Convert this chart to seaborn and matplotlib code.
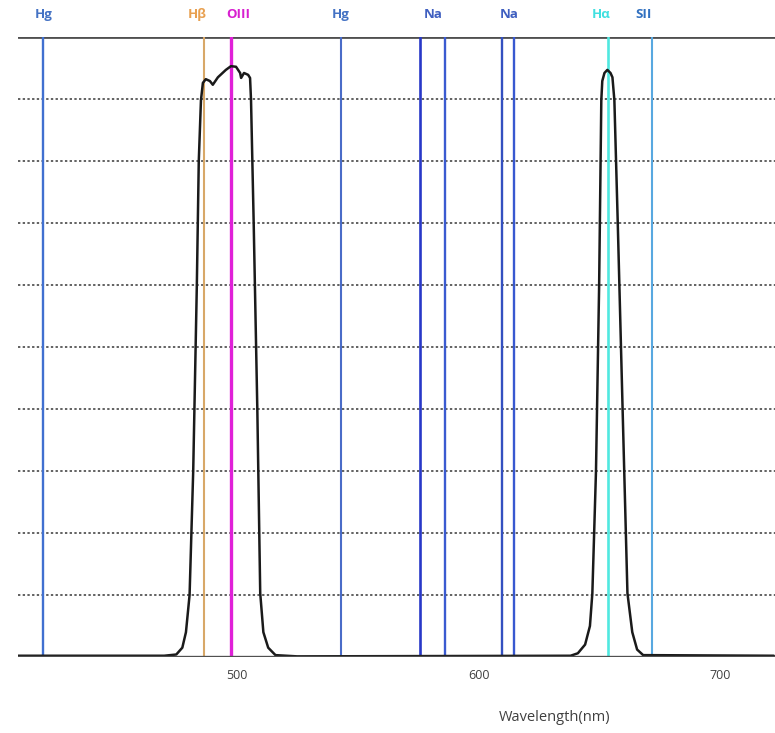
import matplotlib
matplotlib.use('Agg')
import matplotlib.pyplot as plt
import seaborn as sns
import pandas as pd

# filter transmission curve (wavelength nm, transmission %)
wavelength = [409, 470, 475, 477.5, 479, 480.5, 482, 483.5, 484.3, 485.2, 486,
              487.2, 488.9, 490.1, 492.2, 495.5, 497.6, 499.7, 501.4, 501.8,
              503, 504.7, 505.5, 505.9, 507, 508.5, 509.7, 511, 513, 516, 525,
              638, 641, 644, 646, 647, 648.5, 649.8, 650.7, 651.1, 652, 653.2,
              654.5, 655.3, 656.1, 657.5, 659.5, 661.5, 663.5, 665.5, 668, 722]
transmission = [0.2, 0.2, 0.4, 1.5, 4, 10, 30, 60, 80, 89.8, 92.6,
                93.2, 92.9, 92.3, 93.5, 94.7, 95.3, 95.2, 94.2, 93.4,
                94.2, 93.9, 93.4, 89.8, 70, 40, 10.3, 4, 1.5, 0.3, 0.1,
                0.2, 0.6, 2, 5, 10.3, 30, 60, 89.8, 92.9, 94.2, 94.7,
                94.2, 93.5, 89.8, 70, 40, 10.3, 4, 1.2, 0.3, 0.2]

# emission lines
line_names = ['Hg', 'Hβ', 'OIII', 'Hg', 'Na', 'Na', 'Na', 'Na', 'Hα', 'SII']
line_nm = [420, 486.5, 497.8, 543, 575.8, 586, 609.5, 614.8, 653.5, 671.5]
line_colors = ['#4070d0', '#d8a868', '#e020d8', '#4a6cc8', '#2838c8',
               '#3a5ad0', '#3450c0', '#3858d0', '#50e8e0', '#58a8e0']
line_widths = [1.7, 1.5, 2.4, 1.5, 1.9, 1.7, 1.7, 1.7, 1.9, 1.5]

# labels above the plot
label_text = ['Hg', 'Hβ', 'OIII', 'Hg', 'Na', 'Na', 'Hα', 'SII']
label_nm = [420, 483.5, 500.5, 543, 581, 612.5, 650.5, 668]
label_colors = ['#4472c4', '#e8a050', '#d820d0', '#4472c4', '#3f5fc0',
                '#3f5fc0', '#40e0e0', '#3070c0']

x_ticks = [500, 600, 700]
grid_levels = [10, 20, 30, 40, 50, 60, 70, 80, 90]

sns.set_theme(style='white')
plt.rcParams['font.family'] = ['Open Sans', 'DejaVu Sans']

fig = plt.figure(figsize=(7.75, 7.33), dpi=100)
ax = fig.add_axes([0.023, 0.1037, 0.977, 0.8458])

# dotted horizontal grid
for g in grid_levels:
    ax.axhline(g, color='#555555', lw=1.3, ls=(0, (1.3, 1.3)), zorder=1)
ax.axhline(100, color='#505050', lw=2.0, zorder=1)

# emission lines
for nm, c, w in zip(line_nm, line_colors, line_widths):
    ax.axvline(nm, ymin=0, ymax=1, color=c, lw=w, zorder=2)

df = pd.DataFrame({'wavelength': wavelength, 'transmission': transmission})
sns.lineplot(data=df, x='wavelength', y='transmission', color='#1a1a1a',
             lw=1.8, ax=ax, zorder=3, sort=False)

ax.axhline(0, color='#505050', lw=2.4, zorder=4)

for t, nm, c in zip(label_text, label_nm, label_colors):
    ax.text(nm, 102.6, t, color=c, fontsize=9.5, fontweight='bold',
            ha='center', va='bottom', clip_on=False)

ax.set_xlim(409.5, 722.5)
ax.set_ylim(0, 100)
ax.set_xticks(x_ticks)
ax.set_xticklabels([str(v) for v in x_ticks], fontsize=9, color='#404040')
ax.tick_params(axis='x', length=0, pad=9)
ax.set_yticks([])
ax.set_xlabel('')
ax.set_ylabel('')
for s in ax.spines.values():
    s.set_visible(False)

fig.text(0.716, 0.021, 'Wavelength(nm)', fontsize=10.5, color='#404040',
         ha='center', va='center')

fig.savefig('out.png', dpi=100)
